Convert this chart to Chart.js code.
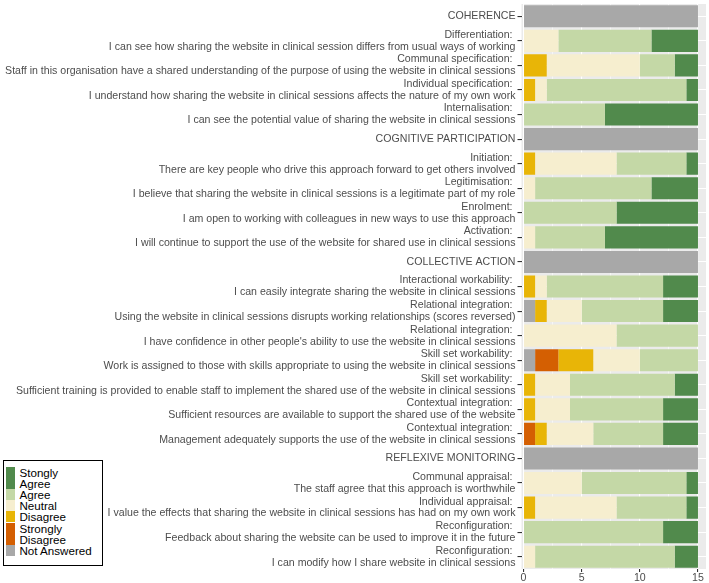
<!DOCTYPE html>
<html>
<head>
<meta charset="utf-8">
<script src="https://cdn.jsdelivr.net/npm/chart.js@4"></script>
<style>
  html, body { margin: 0; padding: 0; background: #fff; }
  #wrap { position: relative; width: 709px; height: 583px; }
  canvas { position: absolute; left: 0; top: 0; }
  #legend { position: absolute; left: 3px; top: 460px; width: 97.5px; height: 104px;
    border: 1.5px solid #000; background: #fff; font-family: "Liberation Sans", Arial, sans-serif;
    font-size: 11.6px; line-height: 11.2px; color: #000; }
  .item { position: absolute; left: 2px; }
  .sw { position: absolute; left: 0; top: 0; width: 8.5px; }
  .tx { position: absolute; left: 13.5px; top: 0; white-space: nowrap; }
</style>
</head>
<body>
<div id="wrap">
  <canvas id="c" width="709" height="583"></canvas>
  <div id="legend"></div>
</div>
<script>
const categories = [
  "COHERENCE",
  ["Differentiation: ", "I can see how sharing the website in clinical session differs from usual ways of working"],
  ["Communal specification: ", "Staff in this organisation have a shared understanding of the purpose of using the website in clinical sessions"],
  ["Individual specification: ", "I understand how sharing the website in clinical sessions affects the nature of my own work"],
  ["Internalisation: ", "I can see the potential value of sharing the website in clinical sessions"],
  "COGNITIVE PARTICIPATION",
  ["Initiation: ", "There are key people who drive this approach forward to get others involved"],
  ["Legitimisation: ", "I believe that sharing the website in clinical sessions is a legitimate part of my role"],
  ["Enrolment: ", "I am open to working with colleagues in new ways to use this approach"],
  ["Activation: ", "I will continue to support the use of the website for shared use in clinical sessions"],
  "COLLECTIVE ACTION",
  ["Interactional workability: ", "I can easily integrate sharing the website in clinical sessions"],
  ["Relational integration: ", "Using the website in clinical sessions disrupts working relationships (scores reversed)"],
  ["Relational integration: ", "I have confidence in other people's ability to use the website in clinical sessions"],
  ["Skill set workability: ", "Work is assigned to those with skills appropriate to using the website in clinical sessions"],
  ["Skill set workability: ", "Sufficient training is provided to enable staff to implement the shared use of the website in clinical sessions"],
  ["Contextual integration: ", "Sufficient resources are available to support the shared use of the website"],
  ["Contextual integration: ", "Management adequately supports the use of the website in clinical sessions"],
  "REFLEXIVE MONITORING",
  ["Communal appraisal: ", "The staff agree that this approach is worthwhile"],
  ["Individual appraisal: ", "I value the effects that sharing the website in clinical sessions has had on my own work"],
  ["Reconfiguration: ", "Feedback about sharing the website can be used to improve it in the future"],
  ["Reconfiguration: ", "I can modify how I share website in clinical sessions"]
];

// section header rows (grey full bars)
const sectionBar       = [15,0,0,0,0, 15,0,0,0,0, 15,0,0,0,0,0,0,0, 15,0,0,0,0];
const notAnswered      = [0,0,0,0,0,  0,0,0,0,0,  0,0,1,0,1,0,0,0,  0,0,0,0,0];
const stronglyDisagree = [0,0,0,0,0,  0,0,0,0,0,  0,0,0,0,2,0,0,1,  0,0,0,0,0];
const disagree         = [0,0,2,1,0,  0,1,0,0,0,  0,1,1,0,3,1,1,1,  0,0,1,0,0];
const neutral          = [0,3,8,1,0,  0,7,1,0,1,  0,1,3,8,4,3,3,4,  0,5,7,0,1];
const agree            = [0,8,3,12,7, 0,6,10,8,6, 0,10,7,7,5,9,8,6, 0,9,6,12,12];
const stronglyAgree    = [0,4,2,1,8,  0,1,4,7,8,  0,3,3,0,0,2,3,3,  0,1,1,3,2];

const xTickValues = [0, 2.5, 5, 7.5, 10, 12.5, 15];
const xMajorLabels = [0, 5, 10, 15];

const COLORS = {
  sa: "#518a4c", a: "#c4d8a6", n: "#f6eecf", d: "#e8b507", sd: "#d45f02", na: "#a8a8a8"
};

const legendItems = [
  { lines: ["Stongly", "Agree"], color: COLORS.sa },
  { lines: ["Agree"], color: COLORS.a },
  { lines: ["Neutral"], color: COLORS.n },
  { lines: ["Disagree"], color: COLORS.d },
  { lines: ["Strongly", "Disagree"], color: COLORS.sd },
  { lines: ["Not Answered"], color: COLORS.na }
];

// build legend
(function () {
  const lg = document.getElementById("legend");
  let top = 5.5;
  const lh = 11.2;
  legendItems.forEach(it => {
    const h = lh * it.lines.length;
    const d = document.createElement("div");
    d.className = "item";
    d.style.top = top + "px";
    d.innerHTML = '<div class="sw" style="height:' + h + 'px;background:' + it.color + '"></div>' +
      '<div class="tx">' + it.lines.join("<br>") + '</div>';
    lg.appendChild(d);
    top += h;
  });
})();

const panelBg = {
  id: "panelBg",
  beforeDraw(chart) {
    const { ctx, chartArea: a } = chart;
    ctx.save();
    ctx.fillStyle = "#ebebeb";
    ctx.fillRect(a.left, a.top, a.right - a.left, a.bottom - a.top);
    ctx.restore();
  }
};

const ds = (label, data, color) => ({
  label, data, backgroundColor: color, borderWidth: 0,
  barPercentage: 0.9, categoryPercentage: 1.0
});

new Chart(document.getElementById("c"), {
  type: "bar",
  data: {
    labels: categories,
    datasets: [
      ds("Section", sectionBar, COLORS.na),
      ds("Not Answered", notAnswered, COLORS.na),
      ds("Strongly Disagree", stronglyDisagree, COLORS.sd),
      ds("Disagree", disagree, COLORS.d),
      ds("Neutral", neutral, COLORS.n),
      ds("Agree", agree, COLORS.a),
      ds("Stongly Agree", stronglyAgree, COLORS.sa)
    ]
  },
  options: {
    indexAxis: "y",
    responsive: false,
    animation: false,
    events: [],
    layout: { padding: { left: 0, right: 3, top: 4, bottom: 0 } },
    plugins: { legend: { display: false }, tooltip: { enabled: false } },
    scales: {
      x: {
        stacked: true,
        min: -0.17,
        max: 15.69,
        afterBuildTicks(scale) { scale.ticks = xTickValues.map(v => ({ value: v })); },
        afterFit(scale) { scale.height = 14; scale.paddingLeft = 0; scale.paddingRight = 0; },
        border: { display: false },
        grid: {
          color: "#ffffff",
          lineWidth: c => (xMajorLabels.includes(c.tick && c.tick.value) ? 1.1 : 0.55),
          tickColor: c => (xMajorLabels.includes(c.tick && c.tick.value) ? "#333333" : "rgba(0,0,0,0)"),
          tickLength: 3,
          drawTicks: true
        },
        ticks: {
          autoSkip: false,
          maxRotation: 0,
          padding: 0,
          color: "#4d4d4d",
          font: { family: "'Liberation Sans', Arial, sans-serif", size: 10.6 },
          callback: v => (xMajorLabels.includes(v) ? String(v) : "")
        }
      },
      y: {
        stacked: true,
        afterFit(scale) { scale.width = 521.5; scale.paddingTop = 0; scale.paddingBottom = 0; },
        border: { display: false },
        grid: {
          offset: false,
          color: "#ffffff",
          lineWidth: 1.1,
          tickColor: "#333333",
          tickLength: 4,
          drawTicks: true
        },
        ticks: {
          autoSkip: false,
          padding: 2,
          color: "#4d4d4d",
          font: { family: "'Liberation Sans', Arial, sans-serif", size: 10.6, lineHeight: 1.13 }
        }
      }
    }
  },
  plugins: [panelBg]
});
</script>
</body>
</html>
